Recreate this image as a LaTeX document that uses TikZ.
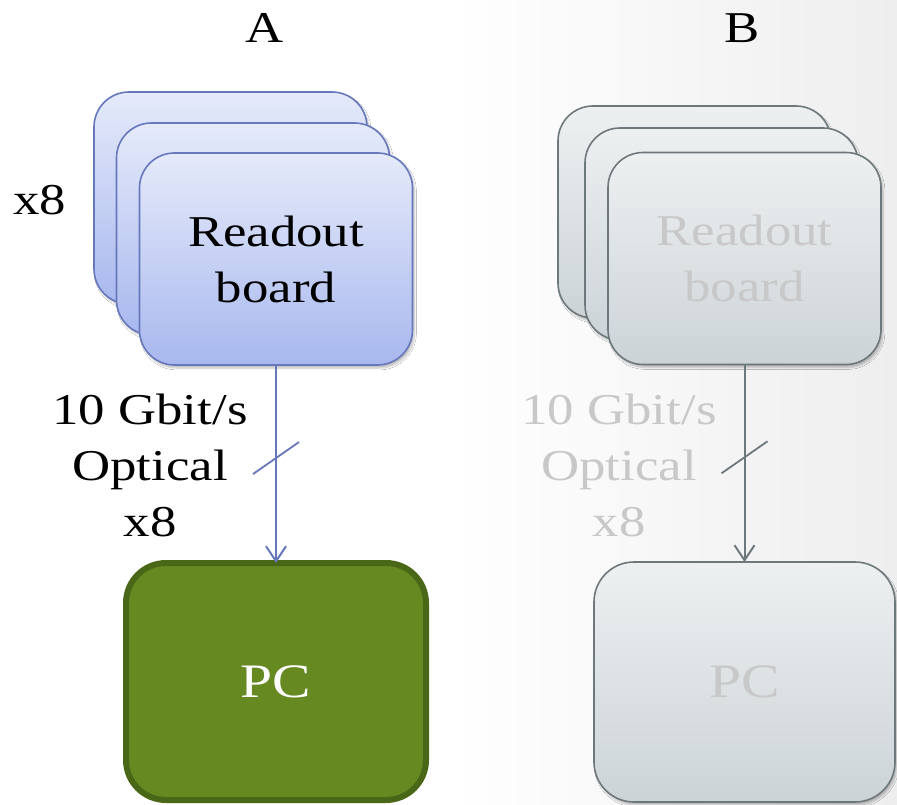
\documentclass[tikz,border=0pt]{standalone}
\usepackage{fontspec}
\setmainfont{Liberation Serif}[FakeStretch=1.2]
\usetikzlibrary{arrows.meta,shadows.blur,calc}
\definecolor{rbBorder}{RGB}{102,119,187}
\definecolor{rbTop}{RGB}{229,234,250}
\definecolor{rbBot}{RGB}{168,184,238}
\definecolor{pcFill}{RGB}{102,137,34}
\definecolor{pcBorder}{RGB}{74,103,24}
\definecolor{gTop}{RGB}{237,240,241}
\definecolor{gBot}{RGB}{204,211,215}
\definecolor{gBorder}{RGB}{109,120,124}
\definecolor{gText}{RGB}{200,200,200}
\definecolor{bgRight}{RGB}{238,238,238}
\tikzset{
  lbl/.style={inner sep=0pt, font=\fontsize{44}{56}\selectfont, align=center},
  board/.style={draw=rbBorder, line width=1.6pt, rounded corners=35pt, top color=rbTop, bottom color=rbBot,
    minimum width=273pt, minimum height=212pt, inner sep=0pt, outer sep=0pt,
    font=\fontsize{44}{56}\selectfont, align=center,
    blur shadow={shadow blur steps=6, shadow xshift=2pt, shadow yshift=-3pt, shadow opacity=25}},
  gboard/.style={board, draw=gBorder, top color=gTop, bottom color=gBot, text=gText},
  pcbox/.style={draw=pcBorder, line width=6pt, rounded corners=40pt, fill=pcFill, text=white,
    minimum width=300pt, minimum height=237pt, inner sep=0pt, outer sep=0pt, font=\fontsize{48}{56}\selectfont},
  gpcbox/.style={draw=gBorder, line width=1.6pt, rounded corners=40pt, top color=gTop, bottom color=gBot, text=gText,
    minimum width=301pt, minimum height=240pt, inner sep=0pt, outer sep=0pt, font=\fontsize{48}{56}\selectfont,
    blur shadow={shadow blur steps=6, shadow xshift=2pt, shadow yshift=-3pt, shadow opacity=25}},
  link/.style={line width=2pt, -{Straight Barb[length=15pt,width=20pt,line width=2pt]}},
  slash/.style={line width=1.8pt},
}
\begin{document}
\begin{tikzpicture}[x=1pt,y=-1pt]
\useasboundingbox (0,0) rectangle (897,805);
\shade[left color=white, right color=bgRight, middle color=white] (0,0) rectangle (897,805);

% column A
\node[lbl] (tA) at (265,28) {A};
\node[lbl] (x8A) at (40,200) {x8};
\node[board] (rA3) at (230.5,198) {};
\node[board] (rA2) at (253,229) {};
\node[board] (rA1) at (276,259) {Readout\\board};
\node[pcbox] (pcA) at (276,681.5) {PC};
\draw[link, rbBorder] (rA1.south) -- (pcA.north);
\draw[rbBorder, slash] ($(rA1.south)!0.47!(pcA.north)$) ++(-23,16) -- ++(46,-32);
\node[lbl] (lA) at (150,465) {10 Gbit/s\\Optical\\x8};

% column B
\node[lbl] (tB) at (742,28) {B};
\node[gboard] (rB3) at (694.5,212) {};
\node[gboard] (rB2) at (721.5,234) {};
\node[gboard] (rB1) at (744.5,258.5) {Readout\\board};
\node[gpcbox] (pcB) at (744.5,682) {PC};
\draw[link, gBorder] (rB1.south) -- (pcB.north);
\draw[gBorder, slash] ($(rB1.south)!0.47!(pcB.north)$) ++(-23,16) -- ++(46,-32);
\node[lbl, text=gText] (lB) at (619,465) {10 Gbit/s\\Optical\\x8};
\end{tikzpicture}
\end{document}
